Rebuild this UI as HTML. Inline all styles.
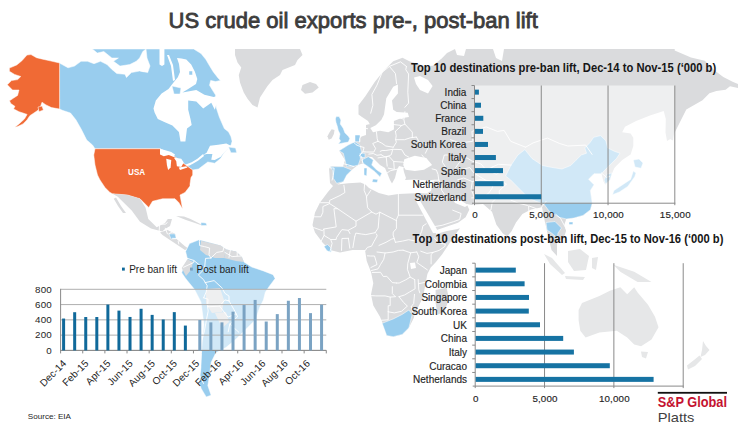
<!DOCTYPE html>
<html><head><meta charset="utf-8">
<style>
html,body{margin:0;padding:0;background:#fff;}
body{width:738px;height:432px;overflow:hidden;position:relative;font-family:"Liberation Sans",sans-serif;}
svg{position:absolute;left:0;top:0;}
</style></head><body>
<svg width="738" height="432" viewBox="0 0 738 432">
<g id="map" stroke-linejoin="round"><path fill="#99cdee" stroke="#fff" stroke-width="0.5" d="M59.4,63 68,67.8 74.5,66.1 81,61.3 87.5,61.3 94,63.7 100.5,61.3 107,64.5 111.9,69.4 116.8,73.5 124.9,74.3 126.5,77.5 131.4,72.6 139.6,71 147.7,72.6 150,66 147,58 146,49 193.7,49 201,53.5 205.9,59.6 209.5,65.7 213.2,71.8 218,77.9 220.5,80.4 215.6,81.6 210.7,80.4 209.5,85.2 213.2,91.3 215.6,95 216.2,107.6 219.4,117.3 224.3,128.6 228.6,131.9 230.9,136.6 232.1,141.2 231,145 224,152.8 220.5,158.6 214.7,163.2 207.8,162 203.1,165.5 198.5,169 192.7,170 183,163 175,157 160,148.75 95,148.75 92.5,145 86.7,140 81.3,129.3 75.9,119.8 70.5,113 62.3,110.3 59.6,109Z"/><path fill="#99cdee" stroke="#fff" stroke-width="0.5" d="M92.4,49 146,49 142.8,51.5 139.6,58 136.3,61.3 129.8,64.5 120,66.1 113.5,61.3 118.4,58 111.9,58 103.8,51.5 97.3,53.1Z"/><path fill="#ffffff" d="M159.5,49 164.4,49 164.4,64.5 162,66 159.5,64.5Z"/><path fill="#ffffff" d="M140,57 146,58 147.3,66 144,72 140,71Z"/><path fill="#ffffff" d="M153.5,108.6 155.8,100.5 161.6,93.5 168.5,88.9 173.1,83.1 177.8,77.3 180,72 179,64 177,58 181.5,58.4 186.3,59.6 191.2,64.5 194.9,71.8 197.3,79.1 196,84 188.2,88.9 182.4,92.4 196.3,90 204.4,94.7 213.7,97 217,96 216.5,104 214.8,109.7 211.3,102.8 203.2,108.6 196.3,101.6 188.2,100.5 188.2,109.7 190.5,119 191.7,125 187,128.6 185.4,141.6 180.5,141.6 178.9,131.9 172.4,125.4 164.3,122.1 157.8,118.9 154.6,112.4Z"/><path fill="#ffffff" d="M167,55 169,55 173,65 175,80 173,81 171,66Z"/><path fill="#99cdee" stroke="#fff" stroke-width="0.5" d="M172,86 181,88 180,94 174,94Z"/><path fill="#99cdee" stroke="#fff" stroke-width="0.5" d="M189,71 192.5,71 192.5,75 189,75Z"/><path fill="#ffffff" d="M203.1,155.1 206.6,152.8 210,145.8 218.2,144.7 226.3,143.5 230.9,145.8 224,152.8 220.5,157 214.7,160 211.25,159.7 212.4,153.9 206.6,154Z"/><path fill="#ffffff" d="M182.3,168 185.8,164.5 191.6,162.2 197.4,158.7 203.1,154.1 204,156 198,160.7 192,164.2 186,166.5 183,170Z"/><path fill="#99cdee" stroke="#fff" stroke-width="0.5" d="M228.6,147 235.6,148.1 236.7,152.8 230.9,152.8Z"/><path fill="#f06a35" stroke="#fff" stroke-width="0.5" d="M27,55 31,54.6 36.5,57.7 42.7,59.2 50,60.8 59.6,63 59.6,109 51.5,107.6 46,104.9 42,102.2 40.6,106.3 37.9,110.3 33.9,113 29.8,115.7 27.1,119.8 23,123.9 17.6,126.6 14.9,127.3 19,123.9 24.4,119.1 27.1,114.4 23,113 19,111.7 16.3,110.3 13.6,109 14.9,106.3 10.8,103.6 9.5,100.8 13.6,98.1 17.6,95.4 19,90 12.5,90 7.3,84.8 11.5,80.6 17.7,79.6 20.8,76.5 14.6,74.4 9.4,71.3 9.4,68.1 16.7,65 21.9,60.8Z"/><path fill="#f06a35" stroke="#fff" stroke-width="0.5" d="M38,107 42,106 43.4,110 39,111.7Z"/><path fill="#f06a35" stroke="#fff" stroke-width="0.5" d="M95,148.75 160,148.75 175,157 183,163 192.7,170 192.7,175 191,177.5 190,184 190,186 185,192.5 180,195 182.5,208.75 178.75,202.5 175,198.75 162.5,198.75 152.5,201.25 148.75,207.5 146.25,205 140,198.75 127.5,195 112.5,193.75 110,192.5 105,187.5 100,180 97.5,175 95,165 93.75,155Z"/><path fill="#ffffff" d="M160,148.75 166.25,150.6 171.25,151.9 175,154.4 173.75,156.9 168.75,155 163.75,156.25 160,154.4Z"/><path fill="#ffffff" d="M166.25,158.75 171.25,160 170.6,167.5 168.1,170 166.9,165Z"/><path fill="#ffffff" d="M173.75,157.5 181.25,158.75 183.75,162.5 181.25,166.9 176.9,166.25 176.25,161.25Z"/><path fill="#ffffff" d="M178.75,167.5 186.25,166.25 187.5,167.5 180,170Z"/><path fill="#ffffff" d="M185,165 191.25,163.75 190,165.6Z"/><path fill="#dadbdd" d="M112.5,193.75 127.5,195 140,198.75 145.6,207.8 148.3,218.9 156.7,227.2 165,223 167.8,218.9 172,219 170,226 165,229 162.2,231.4 151,228.6 140,221.7 131.7,210.6 117.8,196.7Z"/><path fill="#dadbdd" d="M113.75,198.75 116,197.5 121,206 126,213 123,213 118,206Z"/><path fill="#dadbdd" d="M160,232.5 167.5,230 175,233.75 176.25,238.75 185,246.25 188.75,248.75 185,250 177.5,245 170,240 162.5,235Z"/><path fill="#99cdee" stroke="#fff" stroke-width="0.5" d="M169,234 175,233.75 176.25,238.75 171,239Z"/><path fill="#dadbdd" d="M176,216 184,216.5 190,218.75 200,223.75 206,225 202,225.5 195,223 186,220Z"/><path fill="#99cdee" stroke="#fff" stroke-width="0.5" d="M201,222.5 206,223 207,225.5 201,225.5Z"/><path fill="#dadbdd" d="M235,49 300,49 302.5,55 297.5,60 295,65 282.5,70 280,75 272.5,80 267.5,86 260,97.5 257.5,107.5 252.5,105 247.5,98.75 243.75,92.5 240,82.5 238.75,75 241.25,67.5 237.5,62.5 235,55Z"/><path fill="#dadbdd" d="M302.5,85 310,82 316,84 318.75,87.5 312.5,92.5 305,93.75 301,90Z"/><path fill="#99cdee" stroke="#fff" stroke-width="0.5" d="M189.5,243.6 199.2,239.7 220.6,245.6 226.4,249.5 236.1,251.4 242,257.2 243.9,262 251.7,267 263.4,270.9 273.1,274.7 275.1,278.6 269.2,286.4 265.3,292.3 263.4,300 259.5,307.8 255.6,319.6 245.7,329.5 235.8,339.3 225.9,347.6 216,352.5 211.1,362.4 209.5,375.5 207.8,385.4 211.1,395.3 206.2,396.9 201.3,388.7 199.3,383 201,367 201,350.7 204,324.8 201,302 194.4,289.2 186,279 181.7,272.8 183.6,267 187.5,259.2 185.6,251.4Z"/><path fill="#dadbdd" d="M201,240.7 220.6,245.6 226.4,249.5 224,258 215,258 206,255 200,250Z"/><path fill="#dadbdd" d="M226.4,249.5 236.1,251.4 242,257.2 243.9,262 236,261 228,259 224,258Z"/><path fill="#dadbdd" d="M181.7,268 187.5,259.2 193,262 191,270 186,276Z"/><path fill="#dadbdd" d="M206,289 220,288 224,300 222,312 212,313 206,304Z"/><path fill="#dadbdd" d="M215,313 226,312 229,322 222,328Z"/><path fill="#dadbdd" d="M329,168 332,166 343,166.7 345,160 339.2,150.8 348.3,145 355,141.7 358.5,137.6 366,135 366,125 370,124 372,128 368,121 362,117 358.5,114.4 358.5,105.2 365.5,95.9 374.7,82 384,70.5 393.2,61.2 402.5,57.7 409.4,61.2 416.4,63.5 425,66 432.6,65.8 441.7,58.6 447,53.1 455,49 674.7,49 674.7,50.4 691,57.4 704.8,60.8 714,70 723.3,77 732.6,81.7 738,84 738,88 730,86.3 725.6,89.8 716.4,91 709.4,93.2 702.5,100.2 686.3,109.4 678,126 672,138 667,141 665.5,132.6 665.8,119 663.7,111 650,115.6 636.1,121.1 625,126.7 622.2,132.2 630.6,133.6 633.3,137.8 633.3,146.1 630.6,154.4 622.2,160 616.7,165.6 614.4,168.1 612.6,171.9 609.8,179.3 605.2,184.8 603.3,181.1 601.5,173.7 594,173.7 588.5,179.3 594,184.8 590.4,190.4 592.2,203.3 590.4,209.8 583,215.4 573.7,218.1 566.3,219 564.4,224.6 566.3,232 562.6,239.4 557,241.3 557,256 551.5,250 547.8,235 546,226.5 545,222.5 542,207.3 531,209.5 522.4,213.9 516,222.5 511.5,231.2 507.2,236.6 502.9,233.4 496.4,224.7 492,211.7 483,204 472,205 466.7,204 469.3,209.8 465.6,217.2 458,222.8 447,226.5 436,230.2 436,233.9 447,231.1 456.3,229.3 460,228.3 454.4,235.7 448.5,244.7 442,254.4 435.5,262.6 430.7,267.4 427.4,273.9 425.8,282 424.4,290 422.2,298.9 417.8,307.8 413.3,318.9 408.9,327.8 402.2,334.4 393.3,336.7 386.7,335.6 384.4,327.8 380,316.7 373.3,305.6 371,294.4 373.3,283.3 371,272 366.7,261 365,250 352.5,250 340,252.5 330,250 322.5,242.5 315,232.5 312.5,225 315,212.5 320,202.5 327.5,192.5 333,186 330,183Z"/><path fill="#ffffff" d="M410,263 415,262.6 416,268 411,269Z"/><path fill="#dadbdd" d="M435.6,290 446.7,287.8 448.9,298.9 444.4,312.2 437.8,314.4 435.6,303.3Z"/><path fill="#dadbdd" d="M510.5,238 514,238.5 515,243 511.5,244Z"/><path fill="#ffffff" d="M337.3,184.4 343,181.7 346.7,175 351.7,170 358,165 363.3,163.3 368.3,166.7 375,171.7 380,176.7 381.7,173.3 376.7,170 371.7,165 373.3,160 368.3,156.7 372,157 380,165 385,168 388,175 390,180 392,183.5 395,178 397,170 399,166 403,167 404,172 406,178 405,180 415,179.5 428.7,180.5 433,181 431,191 426,193.5 420,193 398.3,194 388.5,195.4 378.8,193 369,188 365.4,184.4 360.5,182.6 348.3,183.2Z"/><path fill="#ffffff" d="M404.3,159.3 414.8,155.8 426.3,158.1 432.1,165.1 424,169.7 414.8,170.9 405.5,169.7 403.2,165.1Z"/><path fill="#ffffff" d="M415,199 419,199 437,229.5 436,233 433,233Z"/><path fill="#ffffff" d="M450,195 460,200 468,205 465,207 455,203Z"/><path fill="#ffffff" d="M384,114.4 386.3,98.2 393.2,86.7 397.9,84.4 397.9,93.6 392,100.6 393.2,109.8 396.7,112 407.8,112.8 409,117 400.8,118.3 393.9,121.1 393.9,129.4 388.3,132.2 380,130.8 373,132.2 370.3,128 375.8,125.3 381.4,119.7Z"/><path fill="#ffffff" d="M414,77.4 420,76 428,80 432.6,86 428,93.6 420,90 416,84Z"/><path fill="#ffffff" d="M455,49 466,49 464,56 457,55Z"/><path fill="#ffffff" d="M493,49 504,49 502,61 496,58Z"/><path fill="#99cdee" stroke="#fff" stroke-width="0.5" d="M336.2,116.6 339.1,116.6 340.9,120.1 340.3,124.1 343.2,128.2 344.9,132.8 348.4,136.3 349.8,138.6 348.3,142.1 343.2,142.9 338.2,144 340.6,140.9 339.1,138.6 340,134 338.3,130.5 337.2,125.9 336,122.4 335.4,118.9Z"/><path fill="#dadbdd" d="M331.6,129.3 334.5,129.9 333.9,134 331.6,138.6 328.7,139.8 327.5,136.3 329.3,132.8Z"/><path fill="#99cdee" stroke="#fff" stroke-width="0.5" d="M339.2,150.8 348.3,145 355,141.7 360,145 361.7,153.3 360,160 358.3,165 351.7,166.7 346.7,166.7 345,160 343.3,153.3Z"/><path fill="#99cdee" stroke="#fff" stroke-width="0.5" d="M330,166.7 343.3,166.7 351.7,170 346.7,175 343.3,181.7 336.7,183.3 333.3,178.3 332.5,170Z"/><path fill="#99cdee" stroke="#fff" stroke-width="0.5" d="M361.7,160 368.3,156.7 373.3,160 371.7,165 376.7,170 381.7,173.3 380,176.7 375,171.7 368.3,166.7 363.3,163.3Z"/><path fill="#99cdee" stroke="#fff" stroke-width="0.5" d="M373,179 378,179.5 377,182.5 372,182Z"/><path fill="#99cdee" stroke="#fff" stroke-width="0.5" d="M364,168 367,168 366.7,176 364,175Z"/><path fill="#99cdee" stroke="#fff" stroke-width="0.5" d="M355,135 360,135 360,141.7 355,141.7Z"/><path fill="#99cdee" stroke="#fff" stroke-width="0.5" d="M360,153.3 365,153.3 365,157.5 360,157.5Z"/><path fill="#99cdee" stroke="#fff" stroke-width="0.5" d="M505.6,176 510.8,165.5 517.9,155 524.9,149.6 532,158.5 537.3,162 542.5,165.5 551.3,167.3 561.9,169 570.7,165.5 576,160.2 581.3,155 586.5,153.2 584.8,147.9 590,142.6 593.6,137.3 600.6,135.6 605.9,140.8 607.7,147.9 614.7,151.4 620,153.2 616.5,158.5 609.4,165.5 604.2,170.8 601.5,173.7 594,173.7 588.5,179.3 594,184.8 590.4,190.4 592.2,203.3 590.4,209.8 583,215.4 573.7,218.1 566.3,219 558.9,217.2 549.6,211.7 544,204.3 529,198.5 518,187.4 510.7,180Z"/><path fill="#99cdee" stroke="#fff" stroke-width="0.5" d="M569,222 573,222 572.8,224.6 569,224.6Z"/><path fill="#99cdee" stroke="#fff" stroke-width="0.5" d="M546,222.5 555,221.5 561.5,228 558,233 557,240 555,236 551.5,233 547,230Z"/><path fill="#99cdee" stroke="#fff" stroke-width="0.5" d="M633.3,160 639,159 643,163 641,168.3 635,167Z"/><path fill="#99cdee" stroke="#fff" stroke-width="0.5" d="M633.3,171.1 636,173 634.7,176.7 627.8,186.4 619.4,192 612.5,194.7 613.9,190.6 622.2,185 630.6,179.4Z"/><path fill="#dadbdd" d="M666.7,118 672,116 675,125 673,140.6 668,138Z"/><path fill="#99cdee" stroke="#fff" stroke-width="0.5" d="M607,174 612,173 610,180 605.5,184 604,180Z"/><path fill="#e6e7e8" d="M544,254 552,258 565,273 562,275 550,264Z"/><path fill="#e6e7e8" d="M568,251 580,249 589,256 586,270 574,271 568,262Z"/><path fill="#e6e7e8" d="M565,276 585,277 583,280 566,279Z"/><path fill="#e6e7e8" d="M592,258 598,257 596,270 592,268Z"/><path fill="#e6e7e8" d="M613.3,264.7 634.2,271.7 651.5,282 637.6,282 620.3,271.7Z"/><path fill="#e6e7e8" d="M578.6,309.9 582,302.9 599.4,296 609.9,290.8 620.3,287.3 627.2,294.2 634.2,287.3 637.6,292.5 648,304.7 655,316.8 658.5,327.2 651.5,339.4 641.1,346.3 634.2,344.6 627.2,337.6 616.8,330.7 599.4,332.4 585.6,337.6 580.3,330.7 578.6,320.3Z"/><path fill="#e6e7e8" d="M641,351.5 648,352 646,358.5 642,357Z"/><path fill="#e6e7e8" d="M703,341 706,346 709.5,350 705,355 700.5,357 702,350Z"/><path fill="#e6e7e8" d="M699.5,355.5 702,359 695,366 688,369.5 687,365.5 694,360Z"/><path fill="#99cdee" stroke="#fff" stroke-width="0.5" d="M324,246.5 327.5,244.5 331.5,248.5 331,252.3 327,250.8Z"/><path fill="#99cdee" stroke="#fff" stroke-width="0.5" d="M382.2,323.3 393.3,318.9 402.2,314.4 408.9,310 412.2,314.4 408.9,327.8 402.2,334.4 393.3,336.7 386.7,335.6Z"/><path fill="none" stroke="#fff" stroke-width="0.9" stroke-linejoin="round" stroke-linecap="round" d="M343.9,185.3 344.9,192.5 340.0,195.5 329.6,200.4 329.6,202.7 320.5,202.7M329.6,203.6 337.6,208.7 333.9,208.7 336.2,226.9 323.9,229.0 322.5,230.7 313.7,227.6M329.6,203.6 322.9,206.5 322.9,212.2 320.9,216.8 312.7,216.8M337.6,208.7 356.0,221.2 371.7,212.0M371.7,212.0 367.6,207.8 366.4,196.7 368.4,193.9 370.9,190.1M364.9,180.8 364.1,190.3 366.8,196.9M398.4,193.7 398.4,215.2 396.4,219.5 396.4,220.6M371.7,212.0 376.0,214.2 379.8,212.2 396.4,220.6M398.4,215.2 422.9,215.2M396.4,220.6 396.4,228.6 393.3,232.1 393.1,235.0 395.4,242.3M379.0,245.4 386.0,242.3 391.7,239.1 394.1,238.5M379.8,212.2 379.0,217.6 378.2,228.0 375.1,232.7M356.0,221.2 356.0,226.1 348.2,230.3 350.0,233.6M354.7,236.8 355.8,233.1 361.3,234.0 365.8,234.6 375.1,232.7M323.9,229.0 324.1,235.4 330.7,239.5 336.2,239.5 336.4,237.7 341.9,229.6 348.2,230.3M352.9,247.6 354.7,236.8M341.5,250.4 341.9,238.5 348.4,238.3M349.8,248.2 348.4,238.3M330.0,251.4 332.1,243.4 330.7,239.5M320.5,242.3 324.1,235.4M364.7,251.2 367.4,247.4 371.5,246.2 374.1,241.3 377.2,235.8 376.4,234.0M395.4,242.3 402.5,241.1 408.6,239.7 416.8,241.3M416.8,241.3 419.0,237.3 421.7,231.3 422.9,225.9 426.2,223.8M434.7,238.5 438.4,242.5 445.4,244.4 444.9,246.4 439.2,250.4 432.9,252.4M432.9,252.4 431.1,254.8 431.1,263.9M420.7,251.2 427.0,253.4 432.9,252.4M403.1,250.2 410.7,252.8 416.8,252.0M377.0,252.0 385.1,253.0 393.1,252.0 398.4,250.4 403.1,250.2M371.5,270.5 373.9,269.9 378.0,268.9 380.5,264.5 383.7,259.4 385.1,253.0M367.4,255.8 370.5,256.0 374.5,256.0 377.0,264.5 370.9,267.5M416.8,252.0 418.8,256.8 416.8,262.5 427.4,269.9M410.7,252.8 407.8,263.3 407.4,269.3 410.2,277.1M372.3,272.5 380.5,272.3 383.3,276.5 386.8,276.3 392.3,282.6 396.4,283.0M396.4,283.0 399.2,283.0 405.8,279.8 410.2,277.1 414.7,279.6M418.8,283.6 429.8,281.6M414.7,279.6 415.1,288.8 409.4,292.1 404.5,295.0 399.0,296.7M371.5,295.6 375.8,295.9 385.1,295.9 390.2,297.1 395.4,296.7M392.3,286.7 392.3,293.6 395.4,296.7M390.2,297.1 390.2,305.7 388.2,305.7 388.2,311.8M381.1,320.3 388.2,319.8 388.2,311.8M388.2,311.8 394.3,312.9 401.5,311.3 407.4,306.1 403.5,302.4 399.0,296.7M414.5,294.4 413.7,303.5 411.3,306.5M411.3,306.5 412.7,312.2 414.5,316.4M418.2,279.6 418.8,289.8 419.8,292.9M420.9,192.0 427.0,192.7 438.6,199.2 444.7,200.8M435.1,226.5 442.1,225.3 453.5,221.7 459.6,219.5 461.1,213.5 452.7,210.2M438.8,180.1 440.3,183.5 441.7,190.3 444.7,194.6 446.4,197.4M420.9,181.8 424.9,181.1 433.9,180.3 438.8,180.1M438.8,180.1 438.0,174.4 436.4,170.0 432.1,168.9M427.0,192.7 431.1,186.7 433.9,180.3M472.3,181.6 471.1,189.1 473.5,195.1 474.9,200.4 473.1,208.3M471.7,197.9 482.7,197.6 488.8,193.0 492.3,187.9 493.3,182.3 499.4,180.6M457.6,179.8 463.7,178.0 472.3,181.6 480.0,179.8 485.8,180.3 493.3,181.1 499.4,180.6M443.3,167.6 446.4,168.1 442.3,162.1 444.3,155.0 447.4,155.0M450.5,139.7 459.6,142.9 472.9,141.3 471.9,131.4 486.2,126.9 497.4,131.4 504.1,130.4 510.7,141.3 525.6,147.2M455.6,167.6 461.7,159.3 467.0,157.9 471.9,161.0 481.1,164.0 486.2,170.2 492.3,167.0 498.4,164.3 511.1,165.1M461.7,169.4 469.8,167.6 473.9,172.9 480.0,176.8 485.8,180.3M492.3,167.0 490.3,171.6 496.4,174.2 501.1,171.6M525.6,147.2 533.1,142.9 547.4,138.1 559.6,143.5 567.8,146.0 585.6,145.1 592.1,154.4M499.4,180.6 501.5,180.6 506.2,184.3M506.2,184.3 499.2,190.8 499.4,195.1 492.3,202.2 490.9,210.0 486.6,211.6M510.9,200.2 518.8,203.3 527.4,205.4M529.0,215.2 528.6,205.8 536.4,208.7 535.8,217.4M535.6,216.3 537.6,213.1 540.9,208.0 546.0,201.5M555.8,214.4 560.5,218.3 566.8,230.0 564.1,238.9M601.3,172.9 606.6,177.3 609.4,176.5M329.2,167.8 334.1,168.1 333.3,175.5 332.1,180.1M343.7,163.7 353.9,166.5M352.5,141.0 356.0,144.7 359.6,146.3 364.1,147.5 362.9,151.7 359.6,155.6 361.7,156.7 362.7,162.6M362.1,134.1 359.6,138.7 359.6,141.9M364.9,128.3 367.6,128.7M376.4,131.7 377.2,138.7 378.0,141.3M378.0,141.3 372.7,143.5 375.6,148.4 373.9,152.0 366.8,152.0 362.9,151.7M378.0,141.3 381.9,143.2 385.8,146.0 393.3,147.2M395.4,131.4 396.2,135.8 395.6,139.7 396.4,142.2 393.3,147.2M368.8,154.1 373.3,153.5 377.0,155.3 381.1,154.7M380.2,151.4 382.1,150.5 385.8,150.5 392.7,149.3 391.3,154.7 388.8,156.1 385.1,157.0 381.1,154.7M395.6,139.7 404.5,139.7 410.7,137.7 416.4,137.1M416.4,137.1 419.6,142.6 429.0,145.7 425.4,153.2M392.7,149.3 401.7,149.6 404.9,155.0 408.6,157.0M393.7,161.5 402.5,162.1 405.8,162.9M386.2,156.7 388.8,156.1 393.7,161.5 394.3,169.4 388.2,168.1M387.2,172.9 390.2,170.8 400.5,168.4M400.5,168.4 404.5,167.6M395.4,131.4 401.7,125.5 404.9,124.1 412.3,132.1 412.3,137.7M390.2,124.1 401.7,125.5M391.9,118.6 397.2,117.4 403.1,118.9M404.9,124.1 403.9,119.7 404.9,111.7M404.9,107.3 408.6,103.1 407.8,92.2 408.6,74.0 405.8,69.7 406.4,66.4M396.6,83.7 395.4,73.5 389.4,66.4 400.5,61.8 406.4,66.4M370.7,113.2 372.9,105.2 371.9,94.4 377.0,85.1 382.1,72.4 389.4,66.4M378.0,157.9 386.2,156.7 387.2,166.2M421.9,155.0 429.0,163.5M200.4,236.6 199.4,241.3 199.6,245.6 204.5,246.6 209.6,248.0 209.0,254.8 210.9,258.0M210.9,258.0 205.5,258.4 204.5,268.9M186.2,258.0 193.7,260.4 204.5,268.9M210.9,258.0 216.8,252.4 222.9,251.4 224.9,243.4M230.7,248.4 229.0,257.4M237.2,248.8 237.2,255.8M224.9,252.4 232.1,256.6 241.3,256.0 242.1,252.0M183.5,267.3 193.7,262.5 193.9,260.7M204.5,268.9 198.4,275.1 203.5,279.6 205.3,282.6M205.3,282.6 207.2,285.7 206.2,291.9 203.7,297.8M205.3,282.6 214.1,280.6 221.9,287.8 224.9,293.3 229.0,296.1 229.0,300.9M203.7,297.8 208.0,299.2 207.6,306.7 209.6,306.7 219.6,306.1 224.9,299.9 229.0,300.9M207.6,306.7 208.2,311.1 206.6,318.9 204.5,330.6 201.9,340.3 201.5,353.3 200.6,364.5 199.4,374.9 203.5,383.5M219.6,306.1 228.0,317.1 236.2,313.8 237.6,316.7 229.8,324.0 228.2,331.8M229.0,300.9 234.1,309.8 236.2,313.8M229.8,324.0 238.8,332.2M159.2,231.1 159.6,224.2 165.3,224.2 167.2,222.7M165.3,228.2 167.4,233.8M168.8,233.8 173.9,231.1 177.6,230.0M172.5,238.3 176.8,238.5M178.2,241.3 178.8,244.0"/></g>
<text x="128.1" y="174.9" font-family="Liberation Sans, sans-serif" font-size="9.8" font-weight="bold" fill="#fff" textLength="17.1" lengthAdjust="spacingAndGlyphs">USA</text><text x="168.5" y="28.2" font-family="Liberation Sans, sans-serif" font-size="22" stroke="#3d3d3d" stroke-width="0.85" fill="#3d3d3d">US crude oil exports pre-, post-ban lift</text><text x="411" y="71.8" font-family="Liberation Sans, sans-serif" font-size="12.4" font-weight="bold" fill="#161616" textLength="305.2" lengthAdjust="spacingAndGlyphs">Top 10 destinations pre-ban lift, Dec-14 to Nov-15 (‘000 b)</text><rect x="474.5" y="85.5" width="200.3" height="117.7" fill="#fff" fill-opacity="0.55"/><rect x="540.767" y="85.5" width="1" height="119.7" fill="#8a8a8a"/><rect x="607.533" y="85.5" width="1" height="119.7" fill="#8a8a8a"/><rect x="674.3" y="85.5" width="1" height="119.7" fill="#8a8a8a"/><rect x="474" y="85.5" width="1" height="119.7" fill="#8a8a8a"/><rect x="472" y="202.7" width="203.3" height="1" fill="#8a8a8a"/><rect x="471.5" y="85" width="3" height="1" fill="#8a8a8a"/><rect x="471.5" y="98.0778" width="3" height="1" fill="#8a8a8a"/><rect x="471.5" y="111.156" width="3" height="1" fill="#8a8a8a"/><rect x="471.5" y="124.233" width="3" height="1" fill="#8a8a8a"/><rect x="471.5" y="137.311" width="3" height="1" fill="#8a8a8a"/><rect x="471.5" y="150.389" width="3" height="1" fill="#8a8a8a"/><rect x="471.5" y="163.467" width="3" height="1" fill="#8a8a8a"/><rect x="471.5" y="176.544" width="3" height="1" fill="#8a8a8a"/><rect x="471.5" y="189.622" width="3" height="1" fill="#8a8a8a"/><rect x="475" y="89.6389" width="3.9" height="5" fill="#1673a3"/><text x="466.3" y="96.0389" font-family="Liberation Sans, sans-serif" font-size="10" text-anchor="end" fill="#1e1e1e" stroke="#1e1e1e" stroke-width="0.15">India</text><rect x="475" y="102.717" width="6" height="5" fill="#1673a3"/><text x="466.3" y="109.117" font-family="Liberation Sans, sans-serif" font-size="10" text-anchor="end" fill="#1e1e1e" stroke="#1e1e1e" stroke-width="0.15">China</text><rect x="475" y="115.794" width="8.3" height="5" fill="#1673a3"/><text x="466.3" y="122.194" font-family="Liberation Sans, sans-serif" font-size="10" text-anchor="end" fill="#1e1e1e" stroke="#1e1e1e" stroke-width="0.15">France</text><rect x="475" y="128.872" width="8" height="5" fill="#1673a3"/><text x="466.3" y="135.272" font-family="Liberation Sans, sans-serif" font-size="10" text-anchor="end" fill="#1e1e1e" stroke="#1e1e1e" stroke-width="0.15">Brazil</text><rect x="475" y="141.95" width="13" height="5" fill="#1673a3"/><text x="466.3" y="148.35" font-family="Liberation Sans, sans-serif" font-size="10" text-anchor="end" fill="#1e1e1e" stroke="#1e1e1e" stroke-width="0.15">South Korea</text><rect x="475" y="155.028" width="20.9" height="5" fill="#1673a3"/><text x="466.3" y="161.428" font-family="Liberation Sans, sans-serif" font-size="10" text-anchor="end" fill="#1e1e1e" stroke="#1e1e1e" stroke-width="0.15">Italy</text><rect x="475" y="168.106" width="28" height="5" fill="#1673a3"/><text x="466.3" y="174.506" font-family="Liberation Sans, sans-serif" font-size="10" text-anchor="end" fill="#1e1e1e" stroke="#1e1e1e" stroke-width="0.15">Spain</text><rect x="475" y="181.183" width="28.6" height="5" fill="#1673a3"/><text x="466.3" y="187.583" font-family="Liberation Sans, sans-serif" font-size="10" text-anchor="end" fill="#1e1e1e" stroke="#1e1e1e" stroke-width="0.15">Netherlands</text><rect x="475" y="194.261" width="66.2" height="5" fill="#1673a3"/><text x="466.3" y="200.661" font-family="Liberation Sans, sans-serif" font-size="10" text-anchor="end" fill="#1e1e1e" stroke="#1e1e1e" stroke-width="0.15">Switzerland</text><text x="475" y="217.8" font-family="Liberation Sans, sans-serif" font-size="9.8" letter-spacing="0.15" text-anchor="middle" fill="#1e1e1e" stroke="#1e1e1e" stroke-width="0.15">0</text><text x="541.767" y="217.8" font-family="Liberation Sans, sans-serif" font-size="9.8" letter-spacing="0.15" text-anchor="middle" fill="#1e1e1e" stroke="#1e1e1e" stroke-width="0.15">5,000</text><text x="608.533" y="217.8" font-family="Liberation Sans, sans-serif" font-size="9.8" letter-spacing="0.15" text-anchor="middle" fill="#1e1e1e" stroke="#1e1e1e" stroke-width="0.15">10,000</text><text x="675.3" y="217.8" font-family="Liberation Sans, sans-serif" font-size="9.8" letter-spacing="0.15" text-anchor="middle" fill="#1e1e1e" stroke="#1e1e1e" stroke-width="0.15">15,000</text><text x="412.6" y="243" font-family="Liberation Sans, sans-serif" font-size="12.4" font-weight="bold" fill="#161616" textLength="310.8" lengthAdjust="spacingAndGlyphs">Top 10 destinations post-ban lift, Dec-15 to Nov-16 (‘000 b)</text><rect x="544.033" y="263.2" width="1" height="124.9" fill="#8a8a8a"/><rect x="613.367" y="263.2" width="1" height="124.9" fill="#8a8a8a"/><rect x="682.7" y="263.2" width="1" height="124.9" fill="#8a8a8a"/><rect x="474.7" y="263.2" width="1" height="124.9" fill="#8a8a8a"/><rect x="472.7" y="385.6" width="211" height="1" fill="#8a8a8a"/><rect x="472.2" y="262.7" width="3" height="1" fill="#8a8a8a"/><rect x="472.2" y="276.356" width="3" height="1" fill="#8a8a8a"/><rect x="472.2" y="290.011" width="3" height="1" fill="#8a8a8a"/><rect x="472.2" y="303.667" width="3" height="1" fill="#8a8a8a"/><rect x="472.2" y="317.322" width="3" height="1" fill="#8a8a8a"/><rect x="472.2" y="330.978" width="3" height="1" fill="#8a8a8a"/><rect x="472.2" y="344.633" width="3" height="1" fill="#8a8a8a"/><rect x="472.2" y="358.289" width="3" height="1" fill="#8a8a8a"/><rect x="472.2" y="371.944" width="3" height="1" fill="#8a8a8a"/><rect x="475.7" y="267.628" width="40.1" height="5" fill="#1673a3"/><text x="467" y="274.028" font-family="Liberation Sans, sans-serif" font-size="10" text-anchor="end" fill="#1e1e1e" stroke="#1e1e1e" stroke-width="0.15">Japan</text><rect x="475.7" y="281.283" width="48.9" height="5" fill="#1673a3"/><text x="467" y="287.683" font-family="Liberation Sans, sans-serif" font-size="10" text-anchor="end" fill="#1e1e1e" stroke="#1e1e1e" stroke-width="0.15">Colombia</text><rect x="475.7" y="294.939" width="53.3" height="5" fill="#1673a3"/><text x="467" y="301.339" font-family="Liberation Sans, sans-serif" font-size="10" text-anchor="end" fill="#1e1e1e" stroke="#1e1e1e" stroke-width="0.15">Singapore</text><rect x="475.7" y="308.594" width="53.1" height="5" fill="#1673a3"/><text x="467" y="314.994" font-family="Liberation Sans, sans-serif" font-size="10" text-anchor="end" fill="#1e1e1e" stroke="#1e1e1e" stroke-width="0.15">South Korea</text><rect x="475.7" y="322.25" width="64.3" height="5" fill="#1673a3"/><text x="467" y="328.65" font-family="Liberation Sans, sans-serif" font-size="10" text-anchor="end" fill="#1e1e1e" stroke="#1e1e1e" stroke-width="0.15">UK</text><rect x="475.7" y="335.906" width="87.5" height="5" fill="#1673a3"/><text x="467" y="342.306" font-family="Liberation Sans, sans-serif" font-size="10" text-anchor="end" fill="#1e1e1e" stroke="#1e1e1e" stroke-width="0.15">China</text><rect x="475.7" y="349.561" width="98.2" height="5" fill="#1673a3"/><text x="467" y="355.961" font-family="Liberation Sans, sans-serif" font-size="10" text-anchor="end" fill="#1e1e1e" stroke="#1e1e1e" stroke-width="0.15">Italy</text><rect x="475.7" y="363.217" width="134.1" height="5" fill="#1673a3"/><text x="467" y="369.617" font-family="Liberation Sans, sans-serif" font-size="10" text-anchor="end" fill="#1e1e1e" stroke="#1e1e1e" stroke-width="0.15">Curacao</text><rect x="475.7" y="376.872" width="177.9" height="5" fill="#1673a3"/><text x="467" y="383.272" font-family="Liberation Sans, sans-serif" font-size="10" text-anchor="end" fill="#1e1e1e" stroke="#1e1e1e" stroke-width="0.15">Netherlands</text><text x="475.7" y="401.9" font-family="Liberation Sans, sans-serif" font-size="9.8" letter-spacing="0.15" text-anchor="middle" fill="#1e1e1e" stroke="#1e1e1e" stroke-width="0.15">0</text><text x="545.033" y="401.9" font-family="Liberation Sans, sans-serif" font-size="9.8" letter-spacing="0.15" text-anchor="middle" fill="#1e1e1e" stroke="#1e1e1e" stroke-width="0.15">5,000</text><text x="614.367" y="401.9" font-family="Liberation Sans, sans-serif" font-size="9.8" letter-spacing="0.15" text-anchor="middle" fill="#1e1e1e" stroke="#1e1e1e" stroke-width="0.15">10,000</text><rect x="60.6" y="289.3" width="265.7" height="61.1" fill="#fff" fill-opacity="0.55"/><rect x="60.6" y="288.8" width="265.7" height="1" fill="#b0b0b0"/><text x="52" y="292.6" font-family="Liberation Sans, sans-serif" font-size="9.8" letter-spacing="0.2" text-anchor="end" fill="#1e1e1e">800</text><rect x="60.6" y="304.075" width="265.7" height="1" fill="#b0b0b0"/><text x="52" y="307.875" font-family="Liberation Sans, sans-serif" font-size="9.8" letter-spacing="0.2" text-anchor="end" fill="#1e1e1e">600</text><rect x="60.6" y="319.35" width="265.7" height="1" fill="#b0b0b0"/><text x="52" y="323.15" font-family="Liberation Sans, sans-serif" font-size="9.8" letter-spacing="0.2" text-anchor="end" fill="#1e1e1e">400</text><rect x="60.6" y="334.625" width="265.7" height="1" fill="#b0b0b0"/><text x="52" y="338.425" font-family="Liberation Sans, sans-serif" font-size="9.8" letter-spacing="0.2" text-anchor="end" fill="#1e1e1e">200</text><rect x="60.6" y="349.9" width="265.7" height="1" fill="#b0b0b0"/><text x="52" y="353.7" font-family="Liberation Sans, sans-serif" font-size="9.8" letter-spacing="0.2" text-anchor="end" fill="#1e1e1e">0</text><rect x="60.1" y="288.8" width="1" height="62" fill="#8a8a8a"/><rect x="60.1" y="349.9" width="266.2" height="1" fill="#8a8a8a"/><rect x="62.1" y="318.552" width="3" height="31.8484" fill="#10699a"/><rect x="73.17" y="312.212" width="3" height="38.1875" fill="#10699a"/><rect x="84.24" y="317.024" width="3" height="33.3759" fill="#10699a"/><rect x="95.31" y="317.024" width="3" height="33.3759" fill="#10699a"/><rect x="106.38" y="304.575" width="3" height="45.825" fill="#10699a"/><rect x="117.45" y="310.609" width="3" height="39.7914" fill="#10699a"/><rect x="128.52" y="316.948" width="3" height="33.4522" fill="#10699a"/><rect x="139.59" y="308.776" width="3" height="41.6244" fill="#10699a"/><rect x="150.66" y="314.886" width="3" height="35.5144" fill="#10699a"/><rect x="161.73" y="319.468" width="3" height="30.9319" fill="#10699a"/><rect x="172.8" y="312.136" width="3" height="38.2639" fill="#10699a"/><rect x="183.87" y="325.578" width="3" height="24.8219" fill="#10699a"/><rect x="198.3" y="320.003" width="3" height="30.3972" fill="#7ba3c3"/><rect x="209.37" y="322.37" width="3" height="28.0296" fill="#7ba3c3"/><rect x="220.44" y="322.37" width="3" height="28.0296" fill="#7ba3c3"/><rect x="231.51" y="311.678" width="3" height="38.7221" fill="#7ba3c3"/><rect x="242.58" y="305.033" width="3" height="45.3668" fill="#7ba3c3"/><rect x="253.65" y="299.916" width="3" height="50.4839" fill="#7ba3c3"/><rect x="264.72" y="321.53" width="3" height="28.8697" fill="#7ba3c3"/><rect x="275.79" y="314.122" width="3" height="36.2781" fill="#7ba3c3"/><rect x="286.86" y="300.756" width="3" height="49.6437" fill="#7ba3c3"/><rect x="297.93" y="298.007" width="3" height="52.3932" fill="#7ba3c3"/><rect x="309" y="313.129" width="3" height="37.271" fill="#7ba3c3"/><rect x="320.07" y="304.651" width="3" height="45.7486" fill="#7ba3c3"/><rect x="60.1" y="350.4" width="1" height="3" fill="#8a8a8a"/><rect x="82.24" y="350.4" width="1" height="3" fill="#8a8a8a"/><rect x="104.38" y="350.4" width="1" height="3" fill="#8a8a8a"/><rect x="126.52" y="350.4" width="1" height="3" fill="#8a8a8a"/><rect x="148.66" y="350.4" width="1" height="3" fill="#8a8a8a"/><rect x="170.8" y="350.4" width="1" height="3" fill="#8a8a8a"/><rect x="192.94" y="350.4" width="1" height="3" fill="#8a8a8a"/><rect x="215.08" y="350.4" width="1" height="3" fill="#8a8a8a"/><rect x="237.22" y="350.4" width="1" height="3" fill="#8a8a8a"/><rect x="259.36" y="350.4" width="1" height="3" fill="#8a8a8a"/><rect x="281.5" y="350.4" width="1" height="3" fill="#8a8a8a"/><rect x="303.64" y="350.4" width="1" height="3" fill="#8a8a8a"/><rect x="325.78" y="350.4" width="1" height="3" fill="#8a8a8a"/><text x="0" y="0" transform="translate(67.1,364) rotate(-45)" font-family="Liberation Sans, sans-serif" font-size="10" letter-spacing="0.1" text-anchor="end" fill="#1e1e1e">Dec-14</text><text x="0" y="0" transform="translate(89.24,364) rotate(-45)" font-family="Liberation Sans, sans-serif" font-size="10" letter-spacing="0.1" text-anchor="end" fill="#1e1e1e">Feb-15</text><text x="0" y="0" transform="translate(111.38,364) rotate(-45)" font-family="Liberation Sans, sans-serif" font-size="10" letter-spacing="0.1" text-anchor="end" fill="#1e1e1e">Apr-15</text><text x="0" y="0" transform="translate(133.52,364) rotate(-45)" font-family="Liberation Sans, sans-serif" font-size="10" letter-spacing="0.1" text-anchor="end" fill="#1e1e1e">Jun-15</text><text x="0" y="0" transform="translate(155.66,364) rotate(-45)" font-family="Liberation Sans, sans-serif" font-size="10" letter-spacing="0.1" text-anchor="end" fill="#1e1e1e">Aug-15</text><text x="0" y="0" transform="translate(177.8,364) rotate(-45)" font-family="Liberation Sans, sans-serif" font-size="10" letter-spacing="0.1" text-anchor="end" fill="#1e1e1e">Oct-15</text><text x="0" y="0" transform="translate(199.94,364) rotate(-45)" font-family="Liberation Sans, sans-serif" font-size="10" letter-spacing="0.1" text-anchor="end" fill="#1e1e1e">Dec-15</text><text x="0" y="0" transform="translate(222.08,364) rotate(-45)" font-family="Liberation Sans, sans-serif" font-size="10" letter-spacing="0.1" text-anchor="end" fill="#1e1e1e">Feb-16</text><text x="0" y="0" transform="translate(244.22,364) rotate(-45)" font-family="Liberation Sans, sans-serif" font-size="10" letter-spacing="0.1" text-anchor="end" fill="#1e1e1e">Apr-16</text><text x="0" y="0" transform="translate(266.36,364) rotate(-45)" font-family="Liberation Sans, sans-serif" font-size="10" letter-spacing="0.1" text-anchor="end" fill="#1e1e1e">Jun-16</text><text x="0" y="0" transform="translate(288.5,364) rotate(-45)" font-family="Liberation Sans, sans-serif" font-size="10" letter-spacing="0.1" text-anchor="end" fill="#1e1e1e">Aug-16</text><text x="0" y="0" transform="translate(310.64,364) rotate(-45)" font-family="Liberation Sans, sans-serif" font-size="10" letter-spacing="0.1" text-anchor="end" fill="#1e1e1e">Oct-16</text><rect x="122" y="267.6" width="2.8" height="3" fill="#10699a"/><text x="129.2" y="272.7" font-family="Liberation Sans, sans-serif" font-size="10" fill="#1e1e1e">Pre ban lift</text><rect x="190" y="267.6" width="2.8" height="3" fill="#7ba3c3"/><text x="196.6" y="272.7" font-family="Liberation Sans, sans-serif" font-size="10" fill="#1e1e1e">Post ban lift</text><text x="27.8" y="419.4" font-family="Liberation Sans, sans-serif" font-size="8.1" fill="#1e1e1e">Source: EIA</text><rect x="657.8" y="391.9" width="69.2" height="1.8" fill="#111"/><text x="657.8" y="406.7" font-family="Liberation Sans, sans-serif" font-size="14" font-weight="bold" fill="#c41230" textLength="69.2" lengthAdjust="spacingAndGlyphs">S&amp;P Global</text><text x="657.8" y="421.9" font-family="Liberation Sans, sans-serif" font-size="13.5" fill="#404040" textLength="36.6" lengthAdjust="spacingAndGlyphs">Platts</text>
</svg>
</body></html>
